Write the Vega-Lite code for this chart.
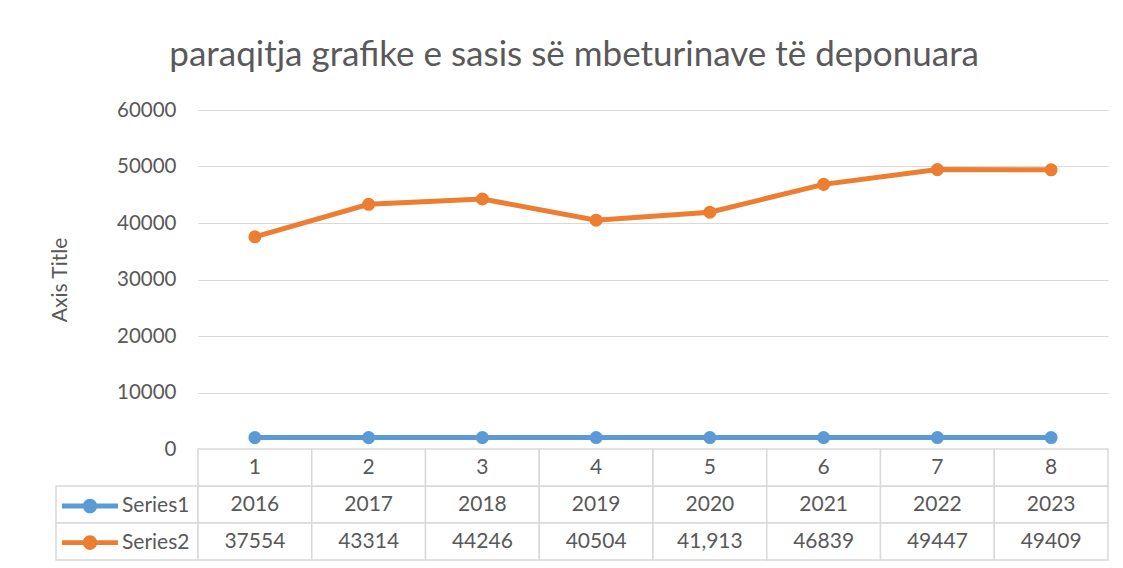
{
  "$schema": "https://vega.github.io/schema/vega-lite/v6.json",
  "autosize": {"type": "pad"},
  "padding": {"left": 49, "top": 38, "right": 15, "bottom": 7},
  "background": "white",
  "title": {
    "text": "paraqitja grafike e sasis së mbeturinave të deponuara",
    "font": "Lato", "fontSize": 35, "fontWeight": "normal", "color": "#595959",
    "anchor": "middle", "frame": "bounds", "dx": -5, "offset": 27
  },
  "datasets": {
    "main": [
      {"cat": 1, "series": "Series1", "value": 2016, "label": "2016"},
      {"cat": 2, "series": "Series1", "value": 2017, "label": "2017"},
      {"cat": 3, "series": "Series1", "value": 2018, "label": "2018"},
      {"cat": 4, "series": "Series1", "value": 2019, "label": "2019"},
      {"cat": 5, "series": "Series1", "value": 2020, "label": "2020"},
      {"cat": 6, "series": "Series1", "value": 2021, "label": "2021"},
      {"cat": 7, "series": "Series1", "value": 2022, "label": "2022"},
      {"cat": 8, "series": "Series1", "value": 2023, "label": "2023"},
      {"cat": 1, "series": "Series2", "value": 37554, "label": "37554"},
      {"cat": 2, "series": "Series2", "value": 43314, "label": "43314"},
      {"cat": 3, "series": "Series2", "value": 44246, "label": "44246"},
      {"cat": 4, "series": "Series2", "value": 40504, "label": "40504"},
      {"cat": 5, "series": "Series2", "value": 41913, "label": "41,913"},
      {"cat": 6, "series": "Series2", "value": 46839, "label": "46839"},
      {"cat": 7, "series": "Series2", "value": 49447, "label": "49447"},
      {"cat": 8, "series": "Series2", "value": 49409, "label": "49409"}
    ]
  },
  "columns": 2,
  "spacing": 0,
  "bounds": "flush",
  "concat": [
    {
      "width": 142, "height": 339,
      "data": {"values": []},
      "mark": "point"
    },
    {
      "width": 910, "height": 339,
      "data": {"name": "main"},
      "encoding": {
        "x": {"field": "cat", "type": "ordinal", "scale": {"type": "point", "padding": 0.5}, "axis": null},
        "y": {
          "field": "value", "type": "quantitative",
          "scale": {"domain": [0, 60000]},
          "axis": {
            "values": [0, 10000, 20000, 30000, 40000, 50000, 60000],
            "format": "d", "title": "Axis Title",
            "grid": true, "gridColor": "#d9d9d9", "gridWidth": 1.2,
            "domain": false, "ticks": false, "labelPadding": 22,
            "labelFont": "Lato", "labelFontSize": 20.5, "labelColor": "#595959",
            "titleFont": "Lato", "titleFontSize": 21, "titleFontWeight": "normal", "titleColor": "#595959",
            "titlePadding": 46
          }
        },
        "color": {
          "field": "series", "type": "nominal",
          "scale": {"domain": ["Series1", "Series2"], "range": ["#5B9BD5", "#ED7D31"]},
          "legend": {
            "orient": "none", "legendX": 20, "legendY": 382, "title": null,
            "symbolType": "M-2,-0.17H2V0.17H-2Z M-0.52,0A0.52,0.52 0 1,1 0.52,0A0.52,0.52 0 1,1 -0.52,0Z",
            "symbolSize": 784, "symbolStrokeWidth": 0, "symbolOpacity": 1,
            "labelFont": "Lato", "labelFontSize": 21, "labelColor": "#595959",
            "labelOffset": 18, "rowPadding": 12.6, "padding": 0, "direction": "vertical"
          }
        }
      },
      "layer": [
        {"mark": {"type": "line", "strokeWidth": 5}},
        {"mark": {"type": "point", "filled": true, "opacity": 1, "size": 170}}
      ]
    },
    {
      "width": 142, "height": 111,
      "data": {"name": "main"},
      "transform": [{"filter": "datum.cat == 1"}],
      "mark": {"type": "rect", "fill": "white", "stroke": "#d9d9d9", "strokeWidth": 1.5},
      "encoding": {
        "y": {"field": "series", "type": "nominal", "scale": {"domain": ["header", "Series1", "Series2"], "paddingInner": 0, "paddingOuter": 0}, "axis": null}
      }
    },
    {
      "width": 910, "height": 111,
      "data": {"name": "main"},
      "encoding": {
        "x": {"field": "cat", "type": "ordinal", "scale": {"paddingInner": 0, "paddingOuter": 0}, "axis": null},
        "y": {"field": "series", "type": "nominal", "scale": {"domain": ["header", "Series1", "Series2"], "paddingInner": 0, "paddingOuter": 0}, "axis": null}
      },
      "layer": [
        {"mark": {"type": "rect", "fill": "white", "stroke": "#d9d9d9", "strokeWidth": 1.5}},
        {
          "transform": [{"filter": "datum.series == 'Series1'"}],
          "mark": {"type": "rect", "fill": "white", "stroke": "#d9d9d9", "strokeWidth": 1.5},
          "encoding": {"y": {"datum": "header"}}
        },
        {
          "mark": {"type": "text", "font": "Lato", "fontSize": 21, "color": "#595959", "baseline": "middle"},
          "encoding": {"text": {"field": "label"}}
        },
        {
          "transform": [{"filter": "datum.series == 'Series1'"}],
          "mark": {"type": "text", "font": "Lato", "fontSize": 21, "color": "#595959", "baseline": "middle"},
          "encoding": {"y": {"datum": "header"}, "text": {"field": "cat"}}
        }
      ]
    }
  ],
  "config": {"view": {"stroke": null}, "font": "Lato"}
}
